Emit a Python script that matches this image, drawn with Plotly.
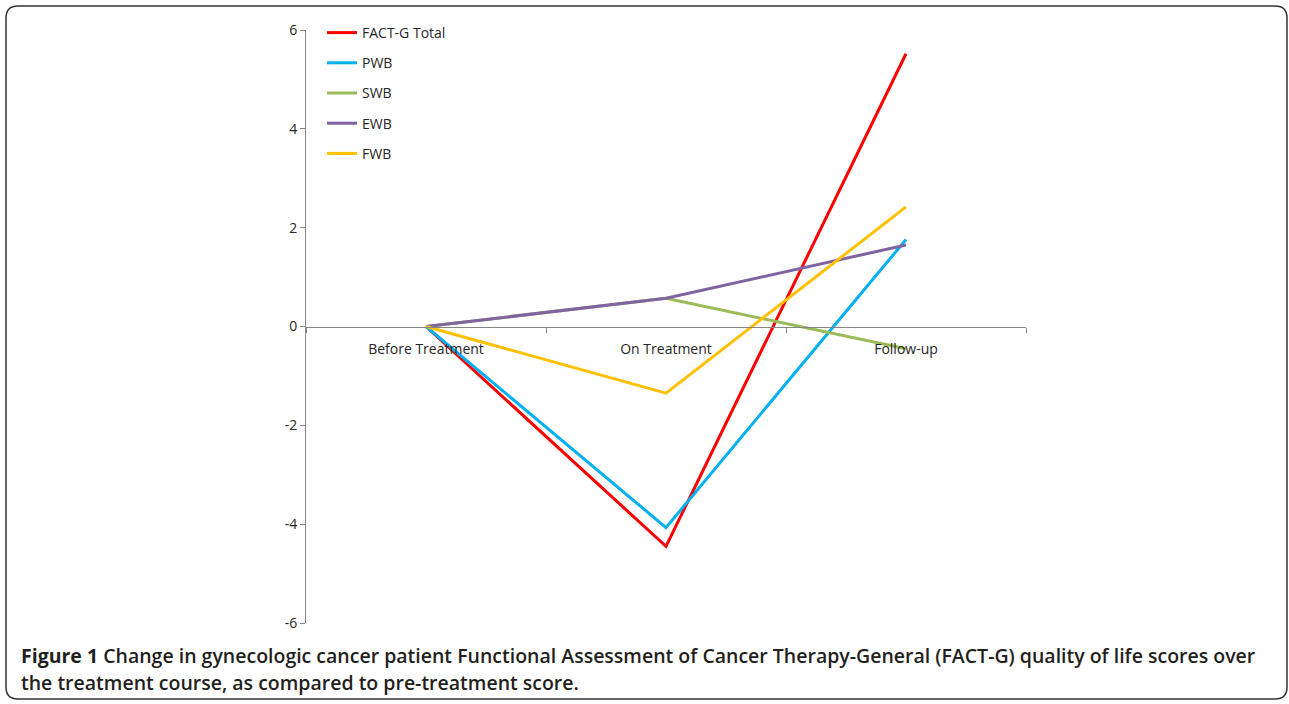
import plotly.graph_objects as go

categories = ["Before Treatment", "On Treatment", "Follow-up"]
fact_g_total = [0, -4.45, 5.52]
pwb = [0, -4.07, 1.76]
swb = [0, 0.57, -0.45]
ewb = [0, 0.57, 1.65]
fwb = [0, -1.35, 2.42]
series_names = ["FACT-G Total", "PWB", "SWB", "EWB", "FWB"]
series_values = [fact_g_total, pwb, swb, ewb, fwb]
series_colors = ["#FF0000", "#00B0F0", "#9BBB59", "#8064A2", "#FFC000"]
y_ticks = [-6, -4, -2, 0, 2, 4, 6]
y_tick_labels = ["-6", "-4", "-2", "0", "2", "4", "6"]

W, H = 1289, 704
L, R, T, B = 306, 1026, 30, 623
pw, ph = R - L, B - T

def px(x):
    return (x - L) / pw

def py(y):
    return 1 - (y - T) / ph

fig = go.Figure()
for i, (name, vals, col) in enumerate(zip(series_names, series_values, series_colors)):
    fig.add_trace(go.Scatter(
        x=categories, y=vals, name=name, mode="lines",
        line=dict(color=col, width=3), legendgroup=f"g{i}",
    ))

font_fam = "'Open Sans', Lato, sans-serif"
axis_font = dict(family=font_fam, size=14, color="#262626")

fig.update_layout(
    width=W, height=H,
    margin=dict(l=L, r=W - R, t=T, b=H - B),
    paper_bgcolor="white", plot_bgcolor="white",
    showlegend=True,
    legend=dict(
        x=px(322), y=py(17), xanchor="left", yanchor="top",
        font=dict(family=font_fam, size=14, color="#262626"),
        bgcolor="rgba(0,0,0,0)", tracegroupgap=9, itemwidth=30,
    ),
    xaxis=dict(
        type="category", range=[-0.5, 2.5],
        showline=True, linecolor="#868686", linewidth=1,
        ticks="outside", ticklen=5, tickcolor="#868686", tickson="boundaries",
        showgrid=False, zeroline=False,
        anchor="free", position=0.5,
        tickfont=axis_font, ticklabelstandoff=10,
    ),
    yaxis=dict(
        range=[-6, 6], tickvals=y_ticks, ticktext=y_tick_labels,
        showline=True, linecolor="#868686", linewidth=1,
        ticks="outside", ticklen=5, tickcolor="#868686",
        showgrid=False, zeroline=False,
        tickfont=axis_font,
    ),
)

# rounded frame around the figure
x0, x1 = px(6), px(1287)
y0, y1 = py(699), py(6)
rx, ry = 12 / pw, 12 / ph
path = (f"M {x0+rx},{y1} L {x1-rx},{y1} Q {x1},{y1} {x1},{y1-ry} "
        f"L {x1},{y0+ry} Q {x1},{y0} {x1-rx},{y0} L {x0+rx},{y0} "
        f"Q {x0},{y0} {x0},{y0+ry} L {x0},{y1-ry} Q {x0},{y1} {x0+rx},{y1} Z")
fig.add_shape(type="path", path=path, xref="paper", yref="paper",
              line=dict(color="#333333", width=1.5))

cap_font = dict(family=font_fam, size=19.5, color="#231F20", weight=600)
fig.add_annotation(
    text="<b>Figure 1</b> Change in gynecologic cancer patient Functional Assessment of Cancer Therapy-General (FACT-G) quality of life scores over",
    xref="paper", yref="paper", x=px(19), y=py(655), xanchor="left", yanchor="middle",
    showarrow=False, font=cap_font, align="left",
)
fig.add_annotation(
    text="the treatment course, as compared to pre-treatment score.",
    xref="paper", yref="paper", x=px(19), y=py(682), xanchor="left", yanchor="middle",
    showarrow=False, font=cap_font, align="left",
)

fig.write_html("out.html", config={"displayModeBar": False},
               post_script="document.body.style.margin='0';")
